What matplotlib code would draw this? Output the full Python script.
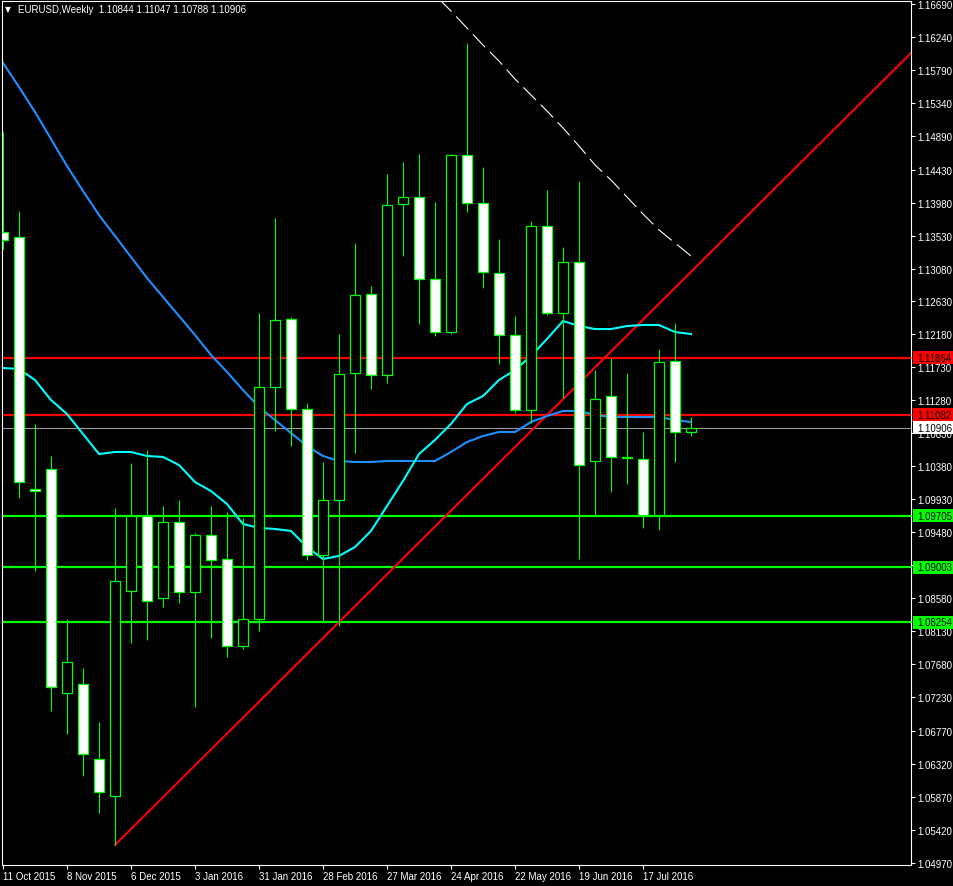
import matplotlib
matplotlib.use("Agg")
import matplotlib.pyplot as plt
import matplotlib.transforms as mtransforms
from matplotlib.patches import Rectangle
import numpy as np

# EURUSD weekly, bar 0 = week of 11 Oct 2015
opens = [1.13578, 1.13510, 1.10071, 1.10344, 1.07287, 1.07409, 1.06386, 1.05881,
         1.08679, 1.09702, 1.08583, 1.09620, 1.08665, 1.09443, 1.09115, 1.07928,
         1.08297, 1.11463, 1.12391, 1.11163, 1.09170, 1.09921, 1.11654, 1.12732,
         1.11627, 1.13960, 1.14056, 1.12937, 1.12213, 1.14629, 1.13974, 1.13019,
         1.12173, 1.11149, 1.13660, 1.12473, 1.13169, 1.10453, 1.11340, 1.10508,
         1.10480, 1.09716, 1.11818, 1.10844]
highs = [1.14943, 1.13865, 1.10958, 1.10521, 1.08297, 1.07628, 1.06891, 1.09811,
         1.10426, 1.10603, 1.09839, 1.09921, 1.09470, 1.09839, 1.09757, 1.09675,
         1.12473, 1.13769, 1.12418, 1.11244, 1.10439, 1.12186, 1.13428, 1.12841,
         1.14370, 1.14534, 1.14643, 1.13988, 1.14643, 1.16158, 1.14465, 1.13483,
         1.12432, 1.13728, 1.14151, 1.13374, 1.14274, 1.11695, 1.11859, 1.11654,
         1.10849, 1.11981, 1.12336, 1.11047]
lows = [1.13346, 1.09948, 1.08952, 1.07041, 1.06727, 1.06154, 1.05649, 1.05212,
        1.07969, 1.08010, 1.08460, 1.08515, 1.07096, 1.08037, 1.07778, 1.07887,
        1.08133, 1.10862, 1.10658, 1.09102, 1.08269, 1.08201, 1.10562, 1.11436,
        1.11517, 1.13251, 1.12323, 1.12159, 1.12186, 1.13851, 1.12814, 1.11777,
        1.11108, 1.10972, 1.12445, 1.11313, 1.09115, 1.09716, 1.10030, 1.10139,
        1.09539, 1.09511, 1.10439, 1.10788]
closes = [1.13469, 1.10166, 1.10043, 1.07369, 1.07710, 1.06454, 1.05935, 1.08815,
          1.09702, 1.08542, 1.09620, 1.08665, 1.09443, 1.09102, 1.07928, 1.08297,
          1.11463, 1.12377, 1.11163, 1.09170, 1.09921, 1.11640, 1.12718, 1.11627,
          1.13947, 1.14056, 1.12937, 1.12213, 1.14629, 1.13974, 1.13032, 1.12173,
          1.11149, 1.13660, 1.12473, 1.13169, 1.10398, 1.11299, 1.10508, 1.10494,
          1.09716, 1.11804, 1.10849, 1.10906]

# moving averages
ma_fast = [1.11722, 1.11709, 1.11558, 1.11285, 1.11094, 1.10821, 1.10548, 1.10576,
           1.10576, 1.10521, 1.10508, 1.10398, 1.10166, 1.10043, 1.09866, 1.09593,
           1.09539, 1.09525, 1.09498, 1.09279, 1.09115, 1.09157, 1.09279, 1.09498,
           1.09839, 1.10180, 1.10548, 1.10740, 1.10958, 1.11231, 1.11340, 1.11558,
           1.11695, 1.11886, 1.12118, 1.12364, 1.12295, 1.12254, 1.12254, 1.12295,
           1.12309, 1.12309, 1.12213, 1.12186]
ma_slow = [1.15885, 1.15557, 1.15216, 1.14848, 1.14479, 1.14138, 1.13810, 1.13524,
           1.13237, 1.12950, 1.12691, 1.12432, 1.12173, 1.11900, 1.11668, 1.11422,
           1.11190, 1.11012, 1.10835, 1.10658, 1.10521, 1.10453, 1.10439, 1.10439,
           1.10453, 1.10453, 1.10453, 1.10453, 1.10576, 1.10712, 1.10794, 1.10849,
           1.10849, 1.10985, 1.11067, 1.11135, 1.11135, 1.11081, 1.11053, 1.11053,
           1.11053, 1.11053, 1.11012, 1.10985]
ma_long_start = 27
ma_long = [1.16813, 1.16594, 1.16362, 1.16130, 1.15912, 1.15666, 1.15448, 1.15230,
           1.14998, 1.14752, 1.14493, 1.14288, 1.14056, 1.13824, 1.13606, 1.13428,
           1.13251]

red_levels = [1.11864, 1.11082]
green_levels = [1.09705, 1.09003, 1.08254]
last_price = 1.10906

trend_bars = [7, 21]
trend_prices = [1.05212, 1.08254]

date_bars = [0, 4, 8, 12, 16, 20, 24, 28, 32, 36, 40]
date_labels = ["11 Oct 2015", "8 Nov 2015", "6 Dec 2015", "3 Jan 2016", "31 Jan 2016",
               "28 Feb 2016", "27 Mar 2016", "24 Apr 2016", "22 May 2016",
               "19 Jun 2016", "17 Jul 2016"]
price_ticks = [1.16690, 1.16240, 1.15790, 1.15340, 1.14890, 1.14430, 1.13980, 1.13530,
               1.13080, 1.12630, 1.12180, 1.11730, 1.11280, 1.10830, 1.10380, 1.09930,
               1.09480, 1.09030, 1.08580, 1.08130, 1.07680, 1.07230, 1.06770, 1.06320,
               1.05870, 1.05420, 1.04970]

W, H = 954, 887
LIME = "#00FF00"
FONT = "Liberation Sans"

fig = plt.figure(figsize=(W / 100, H / 100), dpi=100, facecolor="black")
ax = fig.add_axes([2 / W, (H - 866) / H, 909 / W, 864 / H], facecolor="black")
ax.set_xlim(-0.0625, 56.75)
ax.set_ylim(1.04939, 1.16731)

x = np.arange(len(opens))
o = np.array(opens)
c = np.array(closes)

# horizontal levels
for lv in red_levels:
    ax.axhline(lv, color="#FF0000", lw=1.6, zorder=1)
for lv in green_levels:
    ax.axhline(lv, color=LIME, lw=1.6, zorder=1)
ax.axhline(last_price, color="#9a9a9a", lw=0.8, zorder=1)

# trend line from the Dec low, extended to the right edge
slope = (trend_prices[1] - trend_prices[0]) / (trend_bars[1] - trend_bars[0])
x_end = ax.get_xlim()[1]
ax.plot([trend_bars[0], x_end],
        [trend_prices[0], trend_prices[0] + slope * (x_end - trend_bars[0])],
        color="#FF0000", lw=1.5, zorder=2)

# moving averages
ax.plot(x, ma_slow, color="#1E90FF", lw=1.5, zorder=2)
ax.plot(x, ma_fast, color="#00FFFF", lw=1.5, zorder=2)
ax.plot(np.arange(ma_long_start, ma_long_start + len(ma_long)), ma_long,
        color="white", lw=0.8, dashes=(16, 6), zorder=2)

# candles
ax.vlines(x, lows, highs, color=LIME, lw=0.8, zorder=3)
body_col = ["black" if cc >= oo else "white" for oo, cc in zip(o, c)]
ax.bar(x, np.abs(c - o), bottom=np.minimum(o, c), width=0.58,
       color=body_col, edgecolor=LIME, linewidth=0.9, zorder=4)

# axes styling
for s in ax.spines.values():
    s.set_color("white")
    s.set_linewidth(0.8)
ax.yaxis.tick_right()
ax.set_yticks(price_ticks)
ax.set_yticklabels([f"{p:.5f}" for p in price_ticks])
ax.set_xticks(date_bars)
ax.set_xticklabels(date_labels, ha="left")
ax.tick_params(axis="both", colors="white", labelcolor="white", length=3,
               width=0.8, direction="out", labelsize=7)
ax.tick_params(axis="y", pad=1.5)
ax.tick_params(axis="x", pad=1.5)
for lab in ax.get_xticklabels() + ax.get_yticklabels():
    lab.set_fontfamily(FONT)

# price labels on the right axis
trans = mtransforms.blended_transform_factory(fig.transFigure, ax.transData)
half = 6.5 * (1.16731 - 1.04939) / 864
boxes = [(p, "#FF0000") for p in red_levels] + [(p, LIME) for p in green_levels] + [(last_price, "white")]
for p, col in boxes:
    ax.add_patch(Rectangle((913 / W, p - half), 41 / W, 2 * half, transform=trans,
                           facecolor=col, edgecolor="none", clip_on=False, zorder=10))
    ax.text(917 / W, p, f"{p:.5f}", transform=trans, color="black", fontsize=7,
            fontfamily=FONT, va="center", ha="left", clip_on=False, zorder=11)

# header
fig.text(5 / W, 1 - 10 / H, "\u25BC", color="white", fontsize=5.5,
         fontfamily="DejaVu Sans", va="center", ha="left")
fig.text(18 / W, 1 - 10 / H,
         f"EURUSD,Weekly  {opens[-1]:.5f} {highs[-1]:.5f} {lows[-1]:.5f} {closes[-1]:.5f}",
         color="white", fontsize=7, fontfamily=FONT, va="center", ha="left")

fig.savefig("out.png", dpi=100, facecolor="black")
